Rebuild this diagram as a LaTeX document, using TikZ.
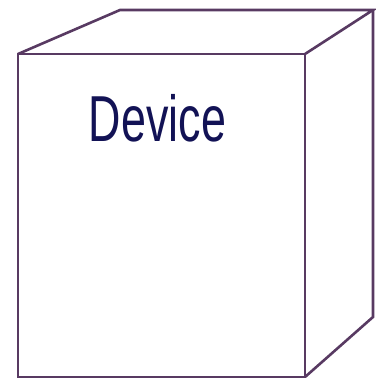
\documentclass[tikz,border=0pt]{standalone}
\usepackage{fontspec}
\setmainfont{Liberation Sans}
\definecolor{edgecol}{RGB}{88,58,98}
\definecolor{textcol}{RGB}{18,18,85}
\tikzset{cubeedge/.style={draw=edgecol,line width=2.6pt,line join=miter}}
\begin{document}
\begin{tikzpicture}[x=1pt,y=-1pt]
\useasboundingbox (0,0) rectangle (375,383);
\coordinate (A) at (18,54);
\coordinate (B) at (305,54);
\coordinate (C) at (305,377);
\coordinate (D) at (18,377);
\coordinate (E) at (120,10);
\coordinate (F) at (373,10);
\coordinate (G) at (373,317);
\draw[cubeedge] (A) -- (E) -- (F) -- (B);
\draw[cubeedge] (F) -- (G) -- (C);
\draw[cubeedge] (A) rectangle (C);
\node[text=textcol,inner sep=0pt] (label) at (157.5,118.5)
  {\scalebox{0.69}[1]{\fontsize{65}{65}\selectfont Device}};
\end{tikzpicture}
\end{document}
